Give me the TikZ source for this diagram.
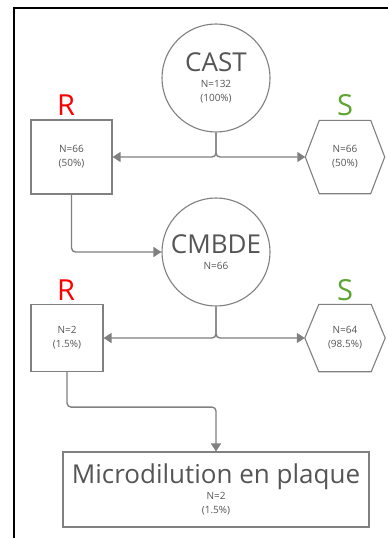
\documentclass[tikz,border=0pt]{standalone}
\usepackage{fontspec}
\setmainfont{Open Sans}
\usetikzlibrary{arrows.meta}

\definecolor{txtgray}{HTML}{555555}
\definecolor{linegray}{HTML}{808080}
\definecolor{resred}{HTML}{FF0000}
\definecolor{susgreen}{HTML}{5EA432}

% hexagon outline round a plain node
\newcommand{\hexframe}[1]{%
  \draw[hexline] (#1.west) -- ([xshift=14pt]#1.north west) -- ([xshift=-14pt]#1.north east)
    -- (#1.east) -- ([xshift=-14pt]#1.south east) -- ([xshift=14pt]#1.south west) -- cycle;}

\begin{document}
\begin{tikzpicture}[
  x=1pt, y=-1pt,
  every node/.style={text=txtgray,font=\fontsize{10}{14}\selectfont},
  test/.style={circle,draw=linegray,line width=1.1pt,minimum size=108pt,inner sep=0pt,align=center},
  rbox/.style={rectangle,draw=linegray,line width=1.1pt,align=center},
  sbox/.style={rectangle,draw=none,align=center},
  hexline/.style={draw=linegray,line width=1.1pt},
  rlab/.style={text=resred,font=\fontsize{29}{29}\selectfont},
  slab/.style={text=susgreen,font=\fontsize{29}{29}\selectfont},
  big/.style={font=\fontsize{26}{26}\selectfont},
  arrow/.style={-{Triangle[length=8pt,width=10pt]},draw=linegray,line width=1.4pt,rounded corners=4pt}
]
  \useasboundingbox (0,0) rectangle (388,538);
  \draw[line width=2pt] (14,538) -- (14,8) -- (388,8);

  % first test
  \node[test] (cast) at (216,78) {{\fontsize{26}{26}\selectfont CAST}\\[2.5pt]N=132\\(100\%)};
  \node[rlab] (rlab1) at (66,105) {R};
  \node[slab] (slab1) at (345,105) {S};
  \node[rbox,minimum width=81pt,minimum height=74pt] (res1) at (71.5,157) {N=66\\(50\%)};
  \node[sbox,minimum width=79pt,minimum height=73pt] (sus1) at (345,157) {N=66\\(50\%)};
  \hexframe{sus1}

  \draw[arrow] (cast.south) |- (res1.east);
  \draw[arrow] (cast.south) |- (sus1.west);

  % second test
  \node[test] (cmbde) at (216,252) {{\fontsize{26}{26}\selectfont CMBDE}\\[2.5pt]N=66};
  \draw[arrow] (res1.south) |- (cmbde.west);
  \node[rlab] (rlab2) at (66,290) {R};
  \node[slab] (slab2) at (345,290) {S};
  \node[rbox,minimum width=72pt,minimum height=67pt] (res2) at (67,338) {N=2\\(1.5\%)};
  \node[sbox,minimum width=80pt,minimum height=67pt] (sus2) at (345,338) {N=64\\(98.5\%)};
  \hexframe{sus2}

  \draw[arrow] (cmbde.south) |- (res2.east);
  \draw[arrow] (cmbde.south) |- (sus2.west);

  % plate
  \node[rbox,minimum width=306pt,minimum height=75pt] (micro) at (216,489.5) {{\fontsize{26}{26}\selectfont Microdilution en plaque}\\[2.5pt]N=2\\(1.5\%)};
  \draw[arrow] (res2.south) -- ++(0,35) -| (micro.north);
\end{tikzpicture}
\end{document}
